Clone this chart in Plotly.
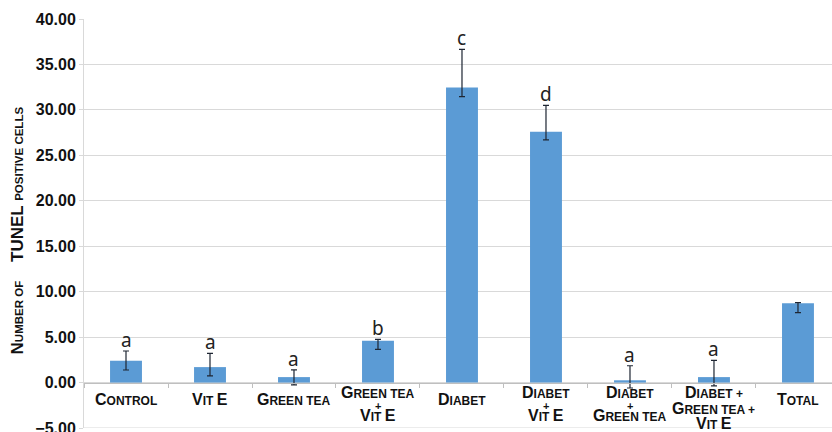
import plotly.graph_objects as go

# Groups (multi-line names use <br>)
categories = [
    "Control",
    "Vit E",
    "Green tea",
    "Green tea<br>+<br>Vit E",
    "Diabet",
    "Diabet<br>+<br>Vit E",
    "Diabet<br>+<br>Green tea",
    "Diabet +<br>Green tea +<br>Vit E",
    "Total",
]
# Mean number of TUNEL positive cells per group
tunel_mean = [2.40, 1.70, 0.60, 4.60, 32.45, 27.60, 0.25, 0.60, 8.72]
# Error bar extents above / below the mean
err_upper = [1.07, 1.52, 0.80, 0.15, 4.20, 2.90, 1.60, 1.83, 0.08]
err_lower = [1.02, 0.96, 0.86, 0.95, 1.00, 0.90, 0.85, 0.96, 1.03]
# Significance letters
group_letters = ["a", "a", "a", "b", "c", "d", "a", "a", ""]
# Value axis ticks
y_ticks = [-5, 0, 5, 10, 15, 20, 25, 30, 35, 40]

BAR_BLUE = "#5B9BD5"
GRID = "#d9d9d9"
AXIS = "#bfbfbf"
INK = "#111111"
LABEL_FONT = "Arial, Liberation Sans"
BIG, SMALL, PLUS = 16, 12, 11


def small_caps(text, big=BIG, small=SMALL):
    """Render text in small caps: capitals large, other letters as small capitals."""
    out, run, run_big = [], "", None
    for ch in text:
        is_big = ch.isupper()
        if run_big is None or is_big == run_big:
            run += ch
        else:
            out.append((run, run_big))
            run = ch
        run_big = is_big
    if run:
        out.append((run, run_big))
    html = ""
    for chunk, is_big in out:
        size = big if is_big else small
        html += f"<span style='font-size:{size}px'>{chunk.upper()}</span>"
    return "<b>" + html + "</b>"


fig = go.Figure(
    go.Bar(
        x=categories,
        y=tunel_mean,
        marker=dict(color=BAR_BLUE, line=dict(width=0)),
        width=0.38,
        error_y=dict(
            type="data",
            symmetric=False,
            array=err_upper,
            arrayminus=err_lower,
            color="#1e2633",
            thickness=1.2,
            width=3,
        ),
        hoverinfo="skip",
    )
)

annotations = []

# Significance letters above the error bars
for cat, m, up, letter in zip(categories, tunel_mean, err_upper, group_letters):
    if not letter:
        continue
    annotations.append(dict(
        x=cat, y=m + up, xref="x", yref="y",
        text=letter, showarrow=False,
        xanchor="center", yanchor="bottom", yshift=-2,
        borderpad=0, borderwidth=0,
        font=dict(family="Noto Sans", size=19, color="#222222"),
    ))

# Category labels, one annotation per text line, hung below the zero line
PLUS_GAP_IN, PLUS_GAP_OUT, LINE_GAP = 11.2, 12.2, 15.7
for cat in categories:
    lines = cat.split("<br>")
    baseline = 22.5 if len(lines) == 1 else 15.8
    for i, line in enumerate(lines):
        is_plus = line.strip() == "+"
        if i > 0:
            if is_plus:
                baseline += PLUS_GAP_IN
            elif lines[i - 1].strip() == "+":
                baseline += PLUS_GAP_OUT
            else:
                baseline += LINE_GAP
        if is_plus:
            text, ascent = f"<b><span style='font-size:{PLUS}px'>+</span></b>", 0.905 * PLUS
        else:
            text, ascent = small_caps(line), 0.905 * BIG
        annotations.append(dict(
            x=cat, y=0, xref="x", yref="y",
            text=text, showarrow=False,
            xanchor="center", yanchor="top",
            yshift=-(baseline - ascent),
            borderpad=0, borderwidth=0,
            font=dict(family=LABEL_FONT, size=SMALL, color=INK),
        ))

# Vertical axis title in small caps
title_small = "font-size:11.5px"
y_title = (
    "<b>N<span style='" + title_small + "'>UMBER OF</span>"
    "\u00a0\u00a0\u00a0\u00a0TUNEL "
    "<span style='" + title_small + "'>POSITIVE CELLS</span></b>"
)
annotations.append(dict(
    x=0, y=0.483, xref="paper", yref="paper",
    text=y_title, showarrow=False, textangle=-90,
    xanchor="center", yanchor="middle", xshift=-67,
    borderpad=0, borderwidth=0,
    font=dict(family="Arial, Liberation Sans", size=17, color=INK),
))

fig.update_layout(
    width=832,
    height=432,
    margin=dict(l=84, r=0, t=19, b=4, autoexpand=False),
    paper_bgcolor="white",
    plot_bgcolor="white",
    showlegend=False,
    annotations=annotations,
    # bottom gridline at the lower end of the value axis
    shapes=[dict(
        type="line", xref="paper", yref="y",
        x0=0, x1=1, y0=y_ticks[0], y1=y_ticks[0],
        line=dict(color=GRID, width=1), layer="below",
    )],
    xaxis=dict(
        type="category",
        range=[-0.5, 8.405],
        anchor="free",
        position=5 / 45,
        showline=True,
        linecolor=AXIS,
        linewidth=1,
        ticks="outside",
        tickson="boundaries",
        ticklen=4,
        tickcolor=AXIS,
        showticklabels=False,
        showgrid=False,
        fixedrange=True,
    ),
    yaxis=dict(
        range=[-5, 40],
        tickvals=y_ticks,
        tickformat=".2f",
        ticklabeloverflow="allow",
        showgrid=True,
        gridcolor=GRID,
        gridwidth=1,
        zeroline=False,
        showline=True,
        linecolor=GRID,
        ticks="outside",
        ticklen=4,
        tickcolor=GRID,
        tickfont=dict(family="Arial, Liberation Sans", size=16, color=INK, weight="bold"),
        fixedrange=True,
    ),
)

fig.write_html("out.html")
